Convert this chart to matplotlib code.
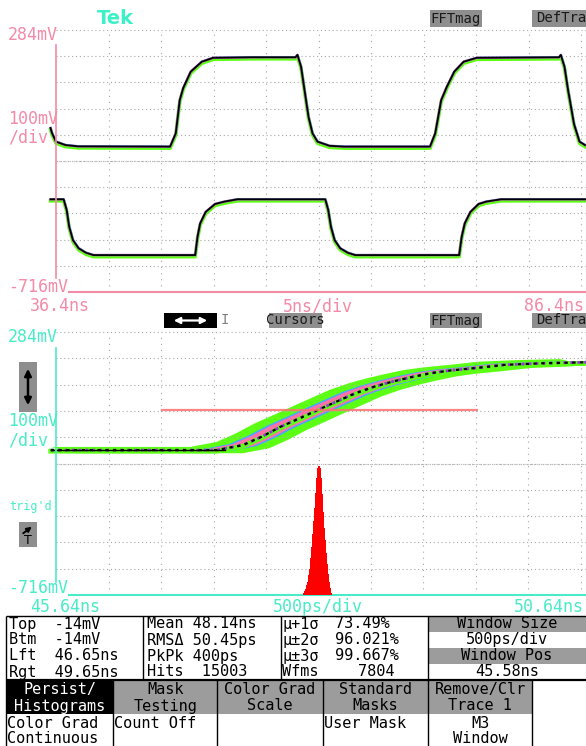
import numpy as np
import matplotlib
matplotlib.use("Agg")
import matplotlib.pyplot as plt
from matplotlib.patches import Rectangle, FancyArrowPatch
from matplotlib.lines import Line2D

# ---------------- data ----------------
# upper window: 5 ns/div, 100 mV/div
top_t_start, top_ns_per_div = 36.4, 5.0
v_top, mv_per_div = 284, 100
top_t1 = [35.88, 36.02, 36.4, 37.3, 38.5, 47.27, 47.81, 48.19, 48.52, 49.23, 50.28, 51.37, 55.0,
          59.21, 59.40, 59.74, 60.07, 60.45, 60.83, 61.31, 62.45, 63.87, 72.02, 72.52, 73.09,
          73.63, 74.33, 75.22, 76.47, 84.31, 84.48, 84.83, 85.17, 85.74, 86.26, 86.78]
top_v1 = [-90, -109, -142, -155, -160, -161, -110, 17, 63, 125, 163, 178, 180,
          180, 189, 144, 55, -47, -110, -142, -158, -161, -161, -110, 17,
          68, 125, 163, 178, 180, 189, 144, 55, -75, -142, -155]
top_t2 = [35.88, 37.13, 37.42, 37.66, 38.02, 38.56, 39.25, 39.97, 49.59, 49.66, 49.88, 50.13,
          50.66, 51.55, 52.44, 53.68, 62.05, 62.33, 62.59, 62.94, 63.47, 64.19, 64.90, 74.69,
          74.80, 75.04, 75.33, 75.87, 76.65, 77.36, 78.79, 86.78]
top_v2 = [-362, -362, -403, -467, -518, -549, -566, -575, -575, -575, -505, -454,
          -410, -380, -371, -362, -362, -403, -467, -518, -549, -566, -575, -575,
          -575, -505, -454, -410, -380, -371, -362, -362]

# lower window: 500 ps/div
bot_t_start, bot_ns_per_div = 45.64, 0.5
bot_t = [45.59, 47.17, 47.42, 47.60, 47.78, 47.96, 48.13, 48.31, 48.49, 48.67, 48.84,
         49.02, 49.20, 49.38, 49.66, 49.91, 50.27, 50.69]
bot_v = [-165, -165, -146, -114, -76, -44, -13, 19, 51, 76, 95, 112, 127, 137, 148,
         159, 165, 169]
hist_box_left, hist_box_right, hist_level = 46.65, 49.65, -14
jitter_pkpk_ns = 0.40
hist_t = [47.985, 47.995, 48.005, 48.015, 48.025, 48.035, 48.045, 48.055, 48.065, 48.075,
          48.085, 48.095, 48.105, 48.115, 48.125, 48.135, 48.145, 48.155, 48.165, 48.175,
          48.185, 48.195, 48.205, 48.215, 48.225, 48.235, 48.245, 48.255, 48.265, 48.275]
hist_counts = [3, 20, 36, 62, 95, 130, 192, 254, 362, 476, 603, 730, 854, 1004, 1151, 1242,
               1265, 1249, 1151, 988, 815, 659, 535, 414, 300, 209, 124, 72, 23, 3]

stats_col1 = ["Top  -14mV", "Btm  -14mV", "Lft  46.65ns", "Rgt  49.65ns"]
stats_col2 = ["Mean 48.14ns", "RMSΔ 50.45ps", "PkPk 400ps", "Hits  15003"]
stats_col3_lbl = ["μ+1σ", "μ±2σ", "μ±3σ", "Wfms"]
stats_col3_val = ["73.49%", "96.021%", "99.667%", "7804"]
window_rows = ["Window Size", "500ps/div", "Window Pos", "45.58ns"]
menu_top = [("Persist/", "Histograms"), ("Mask", "Testing"), ("Color Grad", "Scale"),
            ("Standard", "Masks"), ("Remove/Clr", "Trace 1")]

# ---------------- style ----------------
W, H = 586, 746
PINK = "#f48aa6"
CYAN = "#48ecc8"
GRID = "#a8a8a8"
GRAY = "#9c9c9c"
GREEN = "#5cff14"
MONO = "DejaVu Sans Mono"
PX_PER_DIV = 52.5
TS = 11  # table font size

fig = plt.figure(figsize=(W / 100, H / 100), dpi=100)
fig.patch.set_facecolor("white")


def fx(x):
    return x / W


def fy(y):
    return 1 - y / H


def txt(x, y, s, ha="left", color="black", size=12, **kw):
    fig.text(fx(x), fy(y), s, ha=ha, va="center", color=color, fontsize=size,
             family=MONO, **kw)


def rect(x0, y0, x1, y1, fc, ec="none", lw=0, z=1):
    fig.add_artist(Rectangle((fx(x0), fy(y1)), fx(x1) - fx(x0), fy(y0) - fy(y1),
                             transform=fig.transFigure, facecolor=fc, edgecolor=ec,
                             lw=lw, zorder=z))


def line(x0, y0, x1, y1, color="black", lw=0.8, z=2):
    fig.add_artist(Line2D([fx(x0), fx(x1)], [fy(y0), fy(y1)], transform=fig.transFigure,
                          color=color, lw=lw, zorder=z, solid_capstyle="butt"))


def make_panel(y_top_px, y_bot_px, t0, nsdiv, color, spine_x0_px, spine_y_px):
    ax = fig.add_axes([fx(56), fy(y_bot_px), fx(586) - fx(56), fy(y_top_px) - fy(y_bot_px)])
    t1 = t0 + (530 / PX_PER_DIV) * nsdiv
    ax.set_xlim(t0, t1)
    ax.set_ylim(v_top - 10 * mv_per_div, v_top)
    ax.set_xticks([t0 + k * nsdiv for k in range(1, 11)])
    ax.set_yticks([v_top - k * mv_per_div for k in range(0, 10)])
    ax.tick_params(length=0, labelbottom=False, labelleft=False)
    ax.grid(axis="x", color=GRID, lw=0.8, linestyle=(0, (1, 4.5)))
    ax.grid(axis="y", color=GRID, lw=0.8, linestyle=(0, (1, 2.5)))
    for gl in ax.get_ygridlines() + ax.get_xgridlines():
        gl.set_clip_on(False)
    ax.axhline(v_top - 5 * mv_per_div, color="#b8b8b8", lw=0.8, linestyle=(0, (1, 1)))
    for s in ("top", "right"):
        ax.spines[s].set_visible(False)
    ax.spines["left"].set_color(color)
    ax.spines["left"].set_linewidth(1.2)
    ax.spines["bottom"].set_color(color)
    ax.spines["bottom"].set_linewidth(1.5)
    ax.spines["bottom"].set_bounds(t0 + (spine_x0_px - 56) / PX_PER_DIV * nsdiv, t1)
    ytop, ybot = spine_y_px
    pxdiv = (y_bot_px - y_top_px) / 10
    ax.spines["left"].set_bounds(v_top - (ybot - y_top_px) / pxdiv * mv_per_div,
                                 v_top - (ytop - y_top_px) / pxdiv * mv_per_div)
    ax.set_facecolor("none")
    return ax


# ---------------- upper panel ----------------
ax1 = make_panel(30, 292, top_t_start, top_ns_per_div, PINK, 69, (45, 278))
for tt, vv in ((top_t1, top_v1), (top_t2, top_v2)):
    tt = np.array(tt); vv = np.array(vv)
    ax1.plot(tt, vv - 6, color=GREEN, lw=2.6, clip_on=False, solid_joinstyle="round")
    ax1.plot(tt, vv, color="#c64fd0", lw=1.8, clip_on=False)
    ax1.plot(tt + 0.05, vv + 2, color="#40d8e8", lw=0.8, clip_on=False, alpha=0.7)
    ax1.plot(tt, vv, color="black", lw=1.3, clip_on=False)

# ---------------- lower panel ----------------
ax2 = make_panel(332, 595, bot_t_start, bot_ns_per_div, CYAN, 69, (348, 582))
bt = np.array(bot_t); bv = np.array(bot_v)
j = jitter_pkpk_ns / 2


def band(hw, dv, color):
    left = np.clip(bt - hw, bt[0], bt[-1])
    right = np.clip(bt + hw, bt[0], bt[-1])
    ax2.fill(np.concatenate([left, right[::-1]]),
             np.concatenate([bv + dv, (bv - dv)[::-1]]),
             color=color, lw=0, clip_on=False)


band(j * 1.25, 12, GREEN)
ax2.plot(bt, bv - 4, color=GREEN, lw=3.5, clip_on=False)
band(j * 0.65, 4, "#45a8ff")
band(j * 0.5, 3, "#ff6fa8")
ax2.plot(bt, bv, color="#9b30e0", lw=2.0, linestyle=(0, (1, 1.5)), clip_on=False)
ax2.plot(bt, bv, color="black", lw=1.6, linestyle=(0, (1.5, 2)), clip_on=False)
ax2.plot([bot_t[0], 47.25], [bot_v[0], bot_v[0]], color="black", lw=1.0, clip_on=False)
ax2.plot([hist_box_left, hist_box_right], [hist_level, hist_level], color="#ff7070",
         lw=1.6, alpha=0.85)

axh = ax2.twinx()
axh.set_ylim(0, max(hist_counts) / 0.49)
axh.bar(hist_t, hist_counts, width=0.0101, color="#ff0000", lw=0)
axh.axis("off")

# ---------------- header texts ----------------
fig.text(fx(97), fy(18.5), "Tek", ha="left", va="center", color="#3cf0c8", fontsize=14,
         fontweight="bold", family="DejaVu Sans")
for (x0, x1, y0, y1, s) in [(430, 482, 10, 27, "FFTmag"), (532, 590, 10, 27, "DefTra"),
                            (430, 482, 313, 328, "FFTmag"), (532, 590, 313, 328, "DefTra"),
                            (269, 322, 313, 328, "Cursors")]:
    rect(x0, y0, x1, y1, "#8e8e8e")
    txt((x0 + x1) / 2, (y0 + y1) / 2, s, ha="center", color="#1a1a1a", size=10)
rect(164, 313, 217, 328, "black")
fig.add_artist(FancyArrowPatch((fx(171), fy(320.5)), (fx(210), fy(320.5)),
                               transform=fig.transFigure, arrowstyle="<|-|>",
                               mutation_scale=9, color="white", lw=1.6))
txt(225, 320.5, "I", ha="center", color="#808080", size=10)

# upper labels
txt(8, 35.5, "284mV", color=PINK)
txt(8, 119, "100mV", color=PINK)
txt(8, 138, "/div", color=PINK)
txt(8, 287, "-716mV", color=PINK)
txt(30, 306, "36.4ns", color=PINK)
txt(318, 306, "5ns/div", ha="center", color=PINK)
txt(584, 306, "86.4ns", ha="right", color=PINK)

# lower labels
txt(8, 337.5, "284mV", color=CYAN)
txt(8, 421, "100mV", color=CYAN)
txt(8, 440.5, "/div", color=CYAN)
txt(8, 588, "-716mV", color=CYAN)
txt(30, 606.5, "45.64ns", color=CYAN)
txt(318, 606.5, "500ps/div", ha="center", color=CYAN)
txt(584, 606.5, "50.64ns", ha="right", color=CYAN)
txt(9, 506.5, "trig'd", color=CYAN, size=8.5)

# side icons
rect(19, 362, 37, 412, "#8e8e8e")
fig.add_artist(FancyArrowPatch((fx(28), fy(366)), (fx(28), fy(408)),
                               transform=fig.transFigure, arrowstyle="<|-|>",
                               mutation_scale=10, color="black", lw=1.8))
rect(19, 522, 37, 547, "#8e8e8e")
fig.add_artist(FancyArrowPatch((fx(21), fy(535)), (fx(34), fy(525)),
                               transform=fig.transFigure, arrowstyle="-|>",
                               mutation_scale=7, color="black", lw=1.4))
fig.text(fx(28), fy(541), "T", ha="center", va="center", fontsize=9, color="black",
         family="DejaVu Sans")

# ---------------- table ----------------
rows_y = [624, 640, 656, 672]
for i, y in enumerate(rows_y):
    txt(9, y, stats_col1[i], size=TS)
    txt(146.7, y, stats_col2[i], size=TS)
    txt(282, y, stats_col3_lbl[i], size=TS)
    txt(335 if i < 3 else 358, y, stats_col3_val[i], size=TS)
win_bounds = [(616, 631.5), (631.5, 648), (648, 664), (664, 680)]
for i, (y0, y1) in enumerate(win_bounds):
    rect(428, y0, 586, y1, GRAY if i % 2 == 0 else "white")
    txt(507, (y0 + y1) / 2, window_rows[i], ha="center", size=TS)

cells = [(6, 113.3), (113.3, 217.3), (217.3, 322.7), (322.7, 428.3), (428.3, 531.7)]
for i, (x0, x1) in enumerate(cells):
    rect(x0, 680, x1, 714, "black" if i == 0 else GRAY)
    c = "white" if i == 0 else "black"
    txt((x0 + x1) / 2, 689.5, menu_top[i][0], ha="center", color=c, size=TS)
    txt((x0 + x1) / 2, 706, menu_top[i][1], ha="center", color=c, size=TS)

txt(7, 724, "Color Grad", size=TS)
txt(7, 738.5, "Continuous", size=TS)
txt(114, 724, "Count Off", size=TS)
txt(323.5, 724, "User Mask", size=TS)
txt(480, 724, "M3", ha="center", size=TS)
txt(480, 738.5, "Window", ha="center", size=TS)

# table lines
line(6, 616, 586, 616, lw=1.0)
line(6, 616, 6, 746, lw=1.0)
for x in (143.3, 280.7, 428.3):
    line(x, 616, x, 680, lw=1.0)
line(6, 680, 586, 680, lw=1.6)
for x in (113.3, 217.3, 322.7, 428.3, 531.7):
    line(x, 680, x, 746, lw=1.0)

fig.savefig("out.png", dpi=100, facecolor="white")
